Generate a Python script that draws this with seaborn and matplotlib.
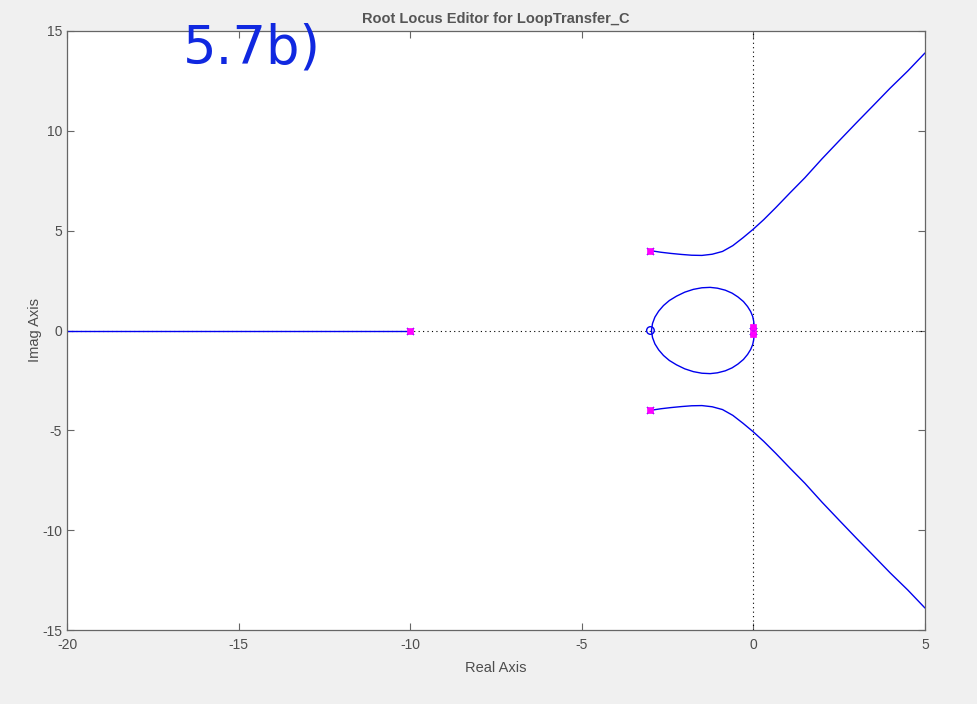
import numpy as np
import pandas as pd
import seaborn as sns
import matplotlib
matplotlib.use('Agg')
import matplotlib.pyplot as plt

# branch from the complex poles, upper half-plane
upper_x = [-3.0, -2.7, -2.4, -2.1, -1.8, -1.5, -1.2, -0.9, -0.6, -0.3,
           0.0, 0.3, 0.65, 1.07, 1.5, 2.0, 2.52, 3.0, 3.5, 3.98, 4.5, 5.0]
upper_y = [4.0, 3.92, 3.86, 3.81, 3.77, 3.76, 3.82, 3.96, 4.25, 4.65,
           5.08, 5.55, 6.15, 6.9, 7.65, 8.6, 9.54, 10.4, 11.28, 12.13, 13.0, 13.9]
# same branch, lower half-plane
lower_x = [-3.0, -2.7, -2.4, -2.1, -1.8, -1.5, -1.2, -0.9, -0.6, -0.3,
           0.0, 0.3, 0.65, 1.07, 1.5, 2.0, 2.52, 3.0, 3.5, 3.98, 4.5, 5.0]
lower_y = [-4.0, -3.92, -3.86, -3.81, -3.77, -3.76, -3.82, -3.96, -4.25, -4.65,
           -5.08, -5.55, -6.15, -6.9, -7.65, -8.6, -9.54, -10.4, -11.28, -12.13, -13.0, -13.9]
# loop between origin and the zero
loop_x = [0.0, 0.02, 0.01, -0.02, -0.08, -0.17, -0.29, -0.45, -0.62, -0.82,
          -1.05, -1.26, -1.5, -1.75, -2.0, -2.24, -2.45, -2.62, -2.76, -2.87,
          -2.94, -2.97,
          -2.94, -2.87, -2.76, -2.62, -2.45, -2.24, -2.0, -1.75, -1.5, -1.26,
          -1.05, -0.82, -0.62, -0.45, -0.29, -0.17, -0.08, -0.02, 0.01, 0.02, 0.0]
loop_y = [0.0, 0.2, 0.45, 0.7, 0.95, 1.2, 1.45, 1.68, 1.87, 2.02,
          2.12, 2.16, 2.14, 2.06, 1.92, 1.72, 1.5, 1.25, 0.97, 0.67,
          0.35, 0.0,
          -0.35, -0.67, -0.97, -1.25, -1.5, -1.72, -1.92, -2.06, -2.14, -2.16,
          -2.12, -2.02, -1.87, -1.68, -1.45, -1.2, -0.95, -0.7, -0.45, -0.2, 0.0]
# real-axis branch
real_x = [-20.0, -10.0]
real_y = [0.0, 0.0]

ol_pole_x = [-10.0, -3.0, -3.0, 0.0, 0.0]
ol_pole_y = [0.0, 4.0, -4.0, 0.0, 0.0]
zero_x = [-3.0]
zero_y = [0.0]
cl_pole_x = [-10.0, -3.0, -3.0, 0.0, 0.0]
cl_pole_y = [0.0, 4.0, -4.0, 0.2, -0.2]

xticks = [-20, -15, -10, -5, 0, 5]
yticks = [-15, -10, -5, 0, 5, 10, 15]

sns.set_style('ticks')
plt.rcParams['font.family'] = ['Liberation Sans', 'DejaVu Sans']
plt.rcParams['axes.unicode_minus'] = False
txt = '#4d4d4d'

fig = plt.figure(figsize=(9.77, 7.04), dpi=100, facecolor='#f0f0f0')
ax = fig.add_axes([67/977, 1-630/704, 858/977, 599/704])
ax.set_facecolor('white')

ax.axhline(0, color='k', lw=0.8, ls=(0, (1, 3)), zorder=1)
ax.axvline(0, color='k', lw=0.8, ls=(0, (1, 3)), zorder=1)

blue = '#0000ee'
for xs, ys in [(upper_x, upper_y), (lower_x, lower_y), (loop_x, loop_y), (real_x, real_y)]:
    df = pd.DataFrame({'x': xs, 'y': ys})
    sns.lineplot(data=df, x='x', y='y', sort=False, estimator=None,
                 color=blue, lw=1.0, ax=ax, zorder=2)

sns.scatterplot(x=zero_x, y=zero_y, marker='o', s=30, facecolor='none',
                edgecolor=blue, linewidth=1.0, ax=ax, zorder=3)
sns.scatterplot(x=ol_pole_x, y=ol_pole_y, marker='x', s=25, color=blue,
                linewidth=1.0, ax=ax, zorder=3)
sns.scatterplot(x=cl_pole_x, y=cl_pole_y, marker='s', s=16, color='#ff00ff',
                edgecolor='#ff00ff', linewidth=0.5, ax=ax, zorder=4)

ax.set_xlim(-20, 5)
ax.set_ylim(-15, 15)
ax.set_xticks(xticks)
ax.set_yticks(yticks)
ax.tick_params(direction='in', top=True, right=True, length=5, width=0.8,
               colors='#666666', labelcolor=txt, labelsize=10)
ax.tick_params(axis='x', pad=6)
for s in ax.spines.values():
    s.set_color('#666666')
    s.set_linewidth(0.9)
ax.set_xlabel('Real Axis', fontsize=10.5, color=txt, labelpad=6)
ax.set_ylabel('Imag Axis', fontsize=10.5, color=txt, labelpad=0)
ax.set_title('Root Locus Editor for LoopTransfer_C', fontsize=10.5,
             fontweight='bold', color='#555555', pad=6)

# handwritten note
fig.text(183/977, 1-64/704, '5.7b)', fontsize=38, color='#1028e0',
         zorder=10, family=['DejaVu Sans'])

fig.savefig('out.png', dpi=100, facecolor=fig.get_facecolor())
